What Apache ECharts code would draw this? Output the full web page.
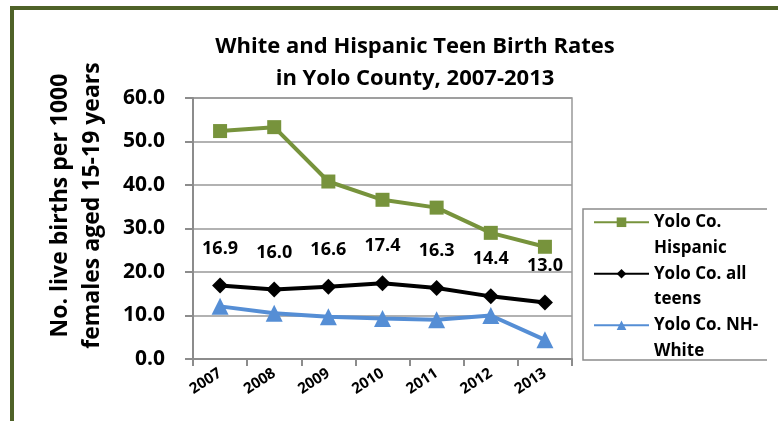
<!DOCTYPE html>
<html>
<head>
<meta charset="utf-8">
<script src="https://cdn.jsdelivr.net/npm/echarts@6/dist/echarts.min.js"></script>
<style>
  html, body { margin: 0; padding: 0; background: #fff; }
  #main { width: 778px; height: 421px; }
</style>
</head>
<body>
<div id="main"></div>
<script>
// data
var years = ['2007', '2008', '2009', '2010', '2011', '2012', '2013'];
var hispanic = [52.4, 53.3, 40.8, 36.6, 34.8, 29.0, 25.8];
var allTeens = [16.9, 16.0, 16.6, 17.4, 16.3, 14.4, 13.0];
var nhWhite = [12.1, 10.5, 9.7, 9.3, 9.0, 10.0, 4.4];

var font = '"Open Sans", Lato, sans-serif';

var chart = echarts.init(document.getElementById('main'));

var option = {
    backgroundColor: '#fff',
    animation: false,
    title: {
        text: 'White and Hispanic Teen Birth Rates\nin Yolo County, 2007-2013',
        left: 410,
        top: 26,
        textAlign: 'center',
        textStyle: {
            fontFamily: font,
            fontWeight: 'bold',
            fontSize: 22,
            lineHeight: 32,
            color: '#000'
        }
    },
    legend: {
        orient: 'vertical',
        left: 593,
        top: 184,
        padding: 0,
        itemGap: -25,
        itemWidth: 55,
        itemHeight: 12,
        data: ['Yolo Co. Hispanic', 'Yolo Co. all teens', 'Yolo Co. NH-White'],
        formatter: function (name) {
            // 两行显示, 第一行空着让图标对齐第一行文字
            return {
                'Yolo Co. Hispanic': '\nYolo Co.\nHispanic',
                'Yolo Co. all teens': '\nYolo Co. all\nteens',
                'Yolo Co. NH-White': '\nYolo Co. NH-\nWhite'
            }[name];
        },
        textStyle: {
            fontFamily: font,
            fontWeight: 'bold',
            fontSize: 17,
            lineHeight: 25.5,
            color: '#000'
        }
    },
    grid: {
        left: 193,
        top: 98,
        right: 206,
        bottom: 62,
        show: true,
        borderColor: '#999',
        borderWidth: 1.5
    },
    xAxis: {
        type: 'category',
        data: years,
        boundaryGap: true,
        axisLine: { lineStyle: { color: '#8c8c8c', width: 2 } },
        axisTick: { show: true, length: 7, lineStyle: { color: '#8c8c8c', width: 2 } },
        axisLabel: {
            rotate: 33,
            margin: 13,
            fontFamily: font,
            fontWeight: 'bold',
            fontSize: 15,
            color: '#000'
        }
    },
    yAxis: {
        type: 'value',
        min: 0,
        max: 60,
        interval: 10,
        name: 'No. live births per 1000\nfemales aged 15-19 years',
        nameLocation: 'middle',
        nameGap: 85,
        nameMoveOverlap: false,
        nameTextStyle: {
            fontFamily: font,
            fontWeight: 'bold',
            fontSize: 23,
            lineHeight: 32,
            color: '#000',
            padding: [0, 0, 0, 46]
        },
        axisLine: { show: true, lineStyle: { color: '#8c8c8c', width: 2 } },
        axisTick: { show: true, length: 8, lineStyle: { color: '#8c8c8c', width: 2 } },
        splitLine: { lineStyle: { color: '#999', width: 1.5 } },
        axisLabel: {
            margin: 28,
            fontFamily: font,
            fontWeight: 'bold',
            fontSize: 21,
            color: '#000',
            formatter: function (v) { return v.toFixed(1); }
        }
    },
    graphic: [
        // 外框
        {
            type: 'rect',
            shape: { x: 12, y: 8, width: 800, height: 500 },
            style: { fill: 'none', stroke: '#4F6228', lineWidth: 4 },
            silent: true
        },
        // 图例框 (右边没有线)
        {
            type: 'polyline',
            shape: { points: [[767, 209], [583, 209], [583, 360], [767, 360]] },
            style: { fill: 'none', stroke: '#8c8c8c', lineWidth: 1.5 },
            silent: true
        }
    ],
    series: [
        {
            name: 'Yolo Co. Hispanic',
            type: 'line',
            data: hispanic,
            symbol: 'rect',
            symbolSize: 14,
            lineStyle: { color: '#77933C', width: 4 },
            itemStyle: { color: '#77933C' }
        },
        {
            name: 'Yolo Co. all teens',
            type: 'line',
            data: allTeens,
            symbol: 'diamond',
            symbolSize: 16,
            lineStyle: { color: '#000', width: 4 },
            itemStyle: { color: '#000' },
            label: {
                show: true,
                position: 'top',
                distance: 20,
                fontFamily: font,
                fontWeight: 'bold',
                fontSize: 18,
                color: '#000',
                formatter: function (p) { return p.value.toFixed(1); }
            }
        },
        {
            name: 'Yolo Co. NH-White',
            type: 'line',
            data: nhWhite,
            symbol: 'triangle',
            symbolSize: 17,
            lineStyle: { color: '#558ED5', width: 4 },
            itemStyle: { color: '#558ED5' }
        }
    ]
};

chart.setOption(option);
</script>
</body>
</html>
